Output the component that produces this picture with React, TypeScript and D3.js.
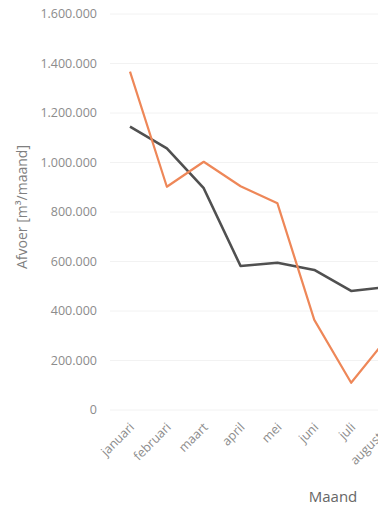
import React from "react";
import * as d3 from "d3";

const months = ["januari", "februari", "maart", "april", "mei", "juni", "juli", "augustus"];
const greySeries = [1145000, 1057000, 896000, 582000, 595000, 566000, 481000, 497000];
const orangeSeries = [1367000, 902000, 1003000, 904000, 835000, 364000, 110000, 295000];
const yTicks = [0, 200000, 400000, 600000, 800000, 1000000, 1200000, 1400000, 1600000];

const W = 378;
const H = 508;

export default function App() {
  const x = d3.scalePoint<string>().domain(months).range([130, 388]);
  const y = d3.scaleLinear().domain([0, 1600000]).range([410, 14]);
  const fmt = d3.formatLocale({ decimal: ",", thousands: ".", grouping: [3], currency: ["€", ""] }).format(",");
  const line = d3
    .line<number>()
    .x((_, i) => x(months[i]) as number)
    .y((d) => y(d));
  const font = "'Open Sans', 'Liberation Sans', sans-serif";
  return (
    <svg width={W} height={H} style={{ position: "absolute", left: 0, top: 0, background: "#fff" }} fontFamily={font}>
      {yTicks.map((t) => (
        <g key={t}>
          <line x1={110} x2={W} y1={y(t)} y2={y(t)} stroke="#f2f2f2" strokeWidth={1} />
          <text x={97} y={y(t)} dy="0.35em" textAnchor="end" fontSize={12.5} fill="#8c8c8c">
            {fmt(t)}
          </text>
        </g>
      ))}
      <path d={line(greySeries) || ""} fill="none" stroke="#505050" strokeWidth={2.6} strokeLinejoin="round" />
      <path d={line(orangeSeries) || ""} fill="none" stroke="#ee8758" strokeWidth={2.2} strokeLinejoin="round" />
      {months.map((m) => {
        const px = (x(m) as number) + 5;
        const py = 428;
        return (
          <text key={m} x={px} y={py} textAnchor="end" fontSize={12.5} fill="#8c8c8c" transform={`rotate(-45 ${px} ${py})`}>
            {m}
          </text>
        );
      })}
      <text x={22} y={207} dy="0.35em" textAnchor="middle" fontSize={14} fill="#7f7f7f" transform="rotate(-90 22 207)">
        Afvoer [m³/maand]
      </text>
      <text x={333} y={502} textAnchor="middle" fontSize={15} fill="#666">
        Maand
      </text>
    </svg>
  );
}
